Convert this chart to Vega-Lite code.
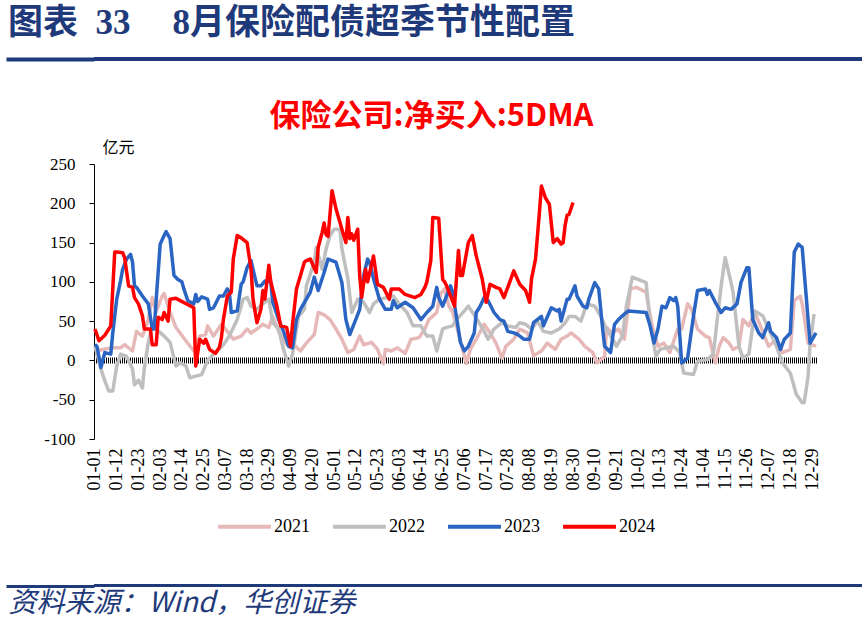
{
  "$schema": "https://vega.github.io/schema/vega-lite/v6.json",
  "background": "white",
  "padding": {"left": 4, "top": 6, "right": 0, "bottom": 0},
  "spacing": 40,
  "config": {"view": {"stroke": null}},
  "vconcat": [
    {
      "width": 768,
      "height": 4,
      "view": {"fill": "#1F3A7A", "stroke": null},
      "data": {"values": [{"h": 0.5}]},
      "mark": {"type": "point", "opacity": 0, "size": 1},
      "encoding": {
        "y": {"field": "h", "type": "quantitative", "scale": {"domain": [0, 1]},
              "axis": {"values": [0.5], "tickSize": 88, "tickWidth": 4, "tickColor": "#1F3A7A", "labels": false, "domain": false, "grid": false, "title": null, "minExtent": 0, "maxExtent": 88}}
      },
      "title": {
        "text": "图表\u200233\u2003\u20098月保险配债超季节性配置",
        "orient": "top",
        "anchor": "start",
        "frame": "bounds",
        "dx": 4,
        "font": "Liberation Serif, Noto Sans CJK SC",
        "fontSize": 35,
        "fontWeight": "bold",
        "color": "#1F3A7A",
        "offset": 16
      }
    },
    {
      "spacing": 94,
      "vconcat": [
        {
          "width": 723,
          "height": 275,
          "title": {
            "text": "保险公司:净买入:5DMA",
            "color": "#FF0000",
            "font": "Noto Sans CJK SC",
            "fontWeight": "bold",
            "fontSize": 31,
            "anchor": "middle",
            "frame": "group",
            "dx": -24,
            "offset": 6
          },
          "data": {
            "values": [
              {"yr":"2021","d":0,"v":12},{"yr":"2021","d":4,"v":14},{"yr":"2021","d":8,"v":16},{"yr":"2021","d":13,"v":16},{"yr":"2021","d":15,"v":20},{"yr":"2021","d":19,"v":12},{"yr":"2021","d":21,"v":37},{"yr":"2021","d":24,"v":31},{"yr":"2021","d":27,"v":52},{"yr":"2021","d":29,"v":80},{"yr":"2021","d":31,"v":62},{"yr":"2021","d":34,"v":82},{"yr":"2021","d":35,"v":85},{"yr":"2021","d":38,"v":61},{"yr":"2021","d":41,"v":42},{"yr":"2021","d":46,"v":25},{"yr":"2021","d":50,"v":12},{"yr":"2021","d":53,"v":31},{"yr":"2021","d":56,"v":33},{"yr":"2021","d":57,"v":44},{"yr":"2021","d":60,"v":31},{"yr":"2021","d":64,"v":46},{"yr":"2021","d":67,"v":37},{"yr":"2021","d":70,"v":27},{"yr":"2021","d":74,"v":31},{"yr":"2021","d":77,"v":40},{"yr":"2021","d":79,"v":35},{"yr":"2021","d":82,"v":40},{"yr":"2021","d":85,"v":46},{"yr":"2021","d":88,"v":42},{"yr":"2021","d":90,"v":56},{"yr":"2021","d":93,"v":37},{"yr":"2021","d":97,"v":20},{"yr":"2021","d":100,"v":22},{"yr":"2021","d":104,"v":12},{"yr":"2021","d":107,"v":22},{"yr":"2021","d":111,"v":33},{"yr":"2021","d":113,"v":61},{"yr":"2021","d":116,"v":58},{"yr":"2021","d":119,"v":52},{"yr":"2021","d":122,"v":40},{"yr":"2021","d":125,"v":27},{"yr":"2021","d":128,"v":10},{"yr":"2021","d":131,"v":14},{"yr":"2021","d":134,"v":31},{"yr":"2021","d":136,"v":20},{"yr":"2021","d":140,"v":23},{"yr":"2021","d":143,"v":14},{"yr":"2021","d":146,"v":-4},{"yr":"2021","d":147,"v":14},{"yr":"2021","d":150,"v":12},{"yr":"2021","d":153,"v":16},{"yr":"2021","d":157,"v":9},{"yr":"2021","d":160,"v":27},{"yr":"2021","d":164,"v":29},{"yr":"2021","d":167,"v":40},{"yr":"2021","d":169,"v":52},{"yr":"2021","d":173,"v":61},{"yr":"2021","d":175,"v":85},{"yr":"2021","d":177,"v":91},{"yr":"2021","d":179,"v":70},{"yr":"2021","d":181,"v":62},{"yr":"2021","d":184,"v":35},{"yr":"2021","d":188,"v":-4},{"yr":"2021","d":190,"v":14},{"yr":"2021","d":193,"v":27},{"yr":"2021","d":197,"v":46},{"yr":"2021","d":200,"v":35},{"yr":"2021","d":203,"v":22},{"yr":"2021","d":206,"v":3},{"yr":"2021","d":208,"v":18},{"yr":"2021","d":212,"v":27},{"yr":"2021","d":215,"v":40},{"yr":"2021","d":219,"v":35},{"yr":"2021","d":222,"v":6},{"yr":"2021","d":226,"v":12},{"yr":"2021","d":229,"v":22},{"yr":"2021","d":233,"v":14},{"yr":"2021","d":236,"v":27},{"yr":"2021","d":239,"v":31},{"yr":"2021","d":241,"v":35},{"yr":"2021","d":245,"v":27},{"yr":"2021","d":248,"v":18},{"yr":"2021","d":252,"v":10},{"yr":"2021","d":254,"v":-3},{"yr":"2021","d":258,"v":5},{"yr":"2021","d":259,"v":42},{"yr":"2021","d":262,"v":35},{"yr":"2021","d":265,"v":40},{"yr":"2021","d":268,"v":27},{"yr":"2021","d":271,"v":91},{"yr":"2021","d":274,"v":93},{"yr":"2021","d":279,"v":87},{"yr":"2021","d":282,"v":44},{"yr":"2021","d":285,"v":18},{"yr":"2021","d":288,"v":22},{"yr":"2021","d":291,"v":10},{"yr":"2021","d":295,"v":40},{"yr":"2021","d":297,"v":40},{"yr":"2021","d":300,"v":72},{"yr":"2021","d":302,"v":65},{"yr":"2021","d":305,"v":40},{"yr":"2021","d":309,"v":31},{"yr":"2021","d":311,"v":29},{"yr":"2021","d":314,"v":-3},{"yr":"2021","d":316,"v":18},{"yr":"2021","d":318,"v":29},{"yr":"2021","d":321,"v":22},{"yr":"2021","d":323,"v":14},{"yr":"2021","d":326,"v":18},{"yr":"2021","d":328,"v":52},{"yr":"2021","d":331,"v":44},{"yr":"2021","d":334,"v":61},{"yr":"2021","d":338,"v":37},{"yr":"2021","d":341,"v":18},{"yr":"2021","d":345,"v":27},{"yr":"2021","d":348,"v":10},{"yr":"2021","d":352,"v":14},{"yr":"2021","d":354,"v":76},{"yr":"2021","d":357,"v":82},{"yr":"2021","d":358,"v":72},{"yr":"2021","d":361,"v":22},{"yr":"2021","d":365,"v":18},
              {"yr":"2022","d":0,"v":18},{"yr":"2022","d":3,"v":-11},{"yr":"2022","d":5,"v":-26},{"yr":"2022","d":7,"v":-39},{"yr":"2022","d":9,"v":-39},{"yr":"2022","d":11,"v":-7},{"yr":"2022","d":13,"v":8},{"yr":"2022","d":16,"v":5},{"yr":"2022","d":19,"v":-11},{"yr":"2022","d":20,"v":-31},{"yr":"2022","d":22,"v":-25},{"yr":"2022","d":24,"v":-35},{"yr":"2022","d":25,"v":-10},{"yr":"2022","d":27,"v":23},{"yr":"2022","d":29,"v":44},{"yr":"2022","d":31,"v":40},{"yr":"2022","d":35,"v":31},{"yr":"2022","d":38,"v":23},{"yr":"2022","d":41,"v":-7},{"yr":"2022","d":43,"v":-3},{"yr":"2022","d":46,"v":-7},{"yr":"2022","d":48,"v":-22},{"yr":"2022","d":51,"v":-20},{"yr":"2022","d":54,"v":-18},{"yr":"2022","d":57,"v":0},{"yr":"2022","d":60,"v":8},{"yr":"2022","d":63,"v":15},{"yr":"2022","d":65,"v":20},{"yr":"2022","d":68,"v":31},{"yr":"2022","d":72,"v":52},{"yr":"2022","d":75,"v":78},{"yr":"2022","d":77,"v":80},{"yr":"2022","d":79,"v":69},{"yr":"2022","d":82,"v":65},{"yr":"2022","d":85,"v":72},{"yr":"2022","d":88,"v":78},{"yr":"2022","d":90,"v":48},{"yr":"2022","d":93,"v":40},{"yr":"2022","d":95,"v":18},{"yr":"2022","d":98,"v":-7},{"yr":"2022","d":100,"v":8},{"yr":"2022","d":103,"v":56},{"yr":"2022","d":106,"v":65},{"yr":"2022","d":107,"v":95},{"yr":"2022","d":111,"v":125},{"yr":"2022","d":112,"v":144},{"yr":"2022","d":115,"v":116},{"yr":"2022","d":117,"v":142},{"yr":"2022","d":119,"v":159},{"yr":"2022","d":121,"v":167},{"yr":"2022","d":124,"v":167},{"yr":"2022","d":125,"v":142},{"yr":"2022","d":128,"v":104},{"yr":"2022","d":130,"v":61},{"yr":"2022","d":133,"v":78},{"yr":"2022","d":136,"v":74},{"yr":"2022","d":139,"v":61},{"yr":"2022","d":141,"v":72},{"yr":"2022","d":144,"v":78},{"yr":"2022","d":148,"v":80},{"yr":"2022","d":151,"v":82},{"yr":"2022","d":155,"v":69},{"yr":"2022","d":158,"v":61},{"yr":"2022","d":161,"v":44},{"yr":"2022","d":165,"v":44},{"yr":"2022","d":168,"v":31},{"yr":"2022","d":171,"v":31},{"yr":"2022","d":173,"v":12},{"yr":"2022","d":176,"v":40},{"yr":"2022","d":178,"v":42},{"yr":"2022","d":181,"v":44},{"yr":"2022","d":183,"v":52},{"yr":"2022","d":187,"v":63},{"yr":"2022","d":189,"v":69},{"yr":"2022","d":193,"v":54},{"yr":"2022","d":197,"v":37},{"yr":"2022","d":199,"v":27},{"yr":"2022","d":202,"v":40},{"yr":"2022","d":206,"v":48},{"yr":"2022","d":209,"v":44},{"yr":"2022","d":213,"v":42},{"yr":"2022","d":215,"v":48},{"yr":"2022","d":218,"v":46},{"yr":"2022","d":221,"v":40},{"yr":"2022","d":224,"v":50},{"yr":"2022","d":227,"v":37},{"yr":"2022","d":231,"v":35},{"yr":"2022","d":235,"v":40},{"yr":"2022","d":238,"v":48},{"yr":"2022","d":240,"v":56},{"yr":"2022","d":243,"v":56},{"yr":"2022","d":246,"v":50},{"yr":"2022","d":249,"v":72},{"yr":"2022","d":253,"v":69},{"yr":"2022","d":256,"v":56},{"yr":"2022","d":259,"v":40},{"yr":"2022","d":263,"v":23},{"yr":"2022","d":264,"v":18},{"yr":"2022","d":267,"v":31},{"yr":"2022","d":269,"v":69},{"yr":"2022","d":272,"v":106},{"yr":"2022","d":279,"v":99},{"yr":"2022","d":281,"v":48},{"yr":"2022","d":284,"v":5},{"yr":"2022","d":286,"v":14},{"yr":"2022","d":289,"v":16},{"yr":"2022","d":293,"v":18},{"yr":"2022","d":296,"v":10},{"yr":"2022","d":298,"v":-16},{"yr":"2022","d":303,"v":-18},{"yr":"2022","d":305,"v":-1},{"yr":"2022","d":310,"v":1},{"yr":"2022","d":313,"v":8},{"yr":"2022","d":315,"v":52},{"yr":"2022","d":317,"v":95},{"yr":"2022","d":319,"v":131},{"yr":"2022","d":322,"v":99},{"yr":"2022","d":323,"v":87},{"yr":"2022","d":326,"v":18},{"yr":"2022","d":328,"v":3},{"yr":"2022","d":331,"v":8},{"yr":"2022","d":334,"v":63},{"yr":"2022","d":338,"v":57},{"yr":"2022","d":341,"v":40},{"yr":"2022","d":345,"v":18},{"yr":"2022","d":348,"v":-3},{"yr":"2022","d":352,"v":-16},{"yr":"2022","d":355,"v":-43},{"yr":"2022","d":358,"v":-54},{"yr":"2022","d":359,"v":-54},{"yr":"2022","d":361,"v":-20},{"yr":"2022","d":362,"v":22},{"yr":"2022","d":364,"v":59},
              {"yr":"2023","d":0,"v":20},{"yr":"2023","d":1,"v":18},{"yr":"2023","d":3,"v":-9},{"yr":"2023","d":5,"v":10},{"yr":"2023","d":8,"v":8},{"yr":"2023","d":9,"v":35},{"yr":"2023","d":11,"v":78},{"yr":"2023","d":13,"v":102},{"yr":"2023","d":14,"v":116},{"yr":"2023","d":16,"v":129},{"yr":"2023","d":18,"v":135},{"yr":"2023","d":19,"v":125},{"yr":"2023","d":20,"v":95},{"yr":"2023","d":21,"v":93},{"yr":"2023","d":24,"v":82},{"yr":"2023","d":27,"v":72},{"yr":"2023","d":29,"v":40},{"yr":"2023","d":30,"v":40},{"yr":"2023","d":31,"v":78},{"yr":"2023","d":33,"v":148},{"yr":"2023","d":35,"v":159},{"yr":"2023","d":36,"v":164},{"yr":"2023","d":38,"v":155},{"yr":"2023","d":40,"v":108},{"yr":"2023","d":42,"v":103},{"yr":"2023","d":44,"v":100},{"yr":"2023","d":45,"v":91},{"yr":"2023","d":47,"v":76},{"yr":"2023","d":50,"v":72},{"yr":"2023","d":51,"v":84},{"yr":"2023","d":52,"v":75},{"yr":"2023","d":54,"v":81},{"yr":"2023","d":57,"v":78},{"yr":"2023","d":58,"v":65},{"yr":"2023","d":60,"v":67},{"yr":"2023","d":63,"v":82},{"yr":"2023","d":65,"v":82},{"yr":"2023","d":67,"v":91},{"yr":"2023","d":68,"v":87},{"yr":"2023","d":69,"v":61},{"yr":"2023","d":72,"v":63},{"yr":"2023","d":74,"v":97},{"yr":"2023","d":75,"v":100},{"yr":"2023","d":77,"v":118},{"yr":"2023","d":79,"v":127},{"yr":"2023","d":80,"v":116},{"yr":"2023","d":82,"v":95},{"yr":"2023","d":84,"v":95},{"yr":"2023","d":86,"v":101},{"yr":"2023","d":89,"v":100},{"yr":"2023","d":90,"v":74},{"yr":"2023","d":93,"v":52},{"yr":"2023","d":95,"v":40},{"yr":"2023","d":98,"v":18},{"yr":"2023","d":100,"v":16},{"yr":"2023","d":102,"v":52},{"yr":"2023","d":104,"v":65},{"yr":"2023","d":107,"v":78},{"yr":"2023","d":109,"v":87},{"yr":"2023","d":111,"v":106},{"yr":"2023","d":113,"v":89},{"yr":"2023","d":116,"v":112},{"yr":"2023","d":118,"v":129},{"yr":"2023","d":122,"v":125},{"yr":"2023","d":125,"v":99},{"yr":"2023","d":127,"v":52},{"yr":"2023","d":129,"v":33},{"yr":"2023","d":132,"v":52},{"yr":"2023","d":134,"v":65},{"yr":"2023","d":136,"v":108},{"yr":"2023","d":138,"v":129},{"yr":"2023","d":139,"v":125},{"yr":"2023","d":141,"v":104},{"yr":"2023","d":144,"v":78},{"yr":"2023","d":147,"v":65},{"yr":"2023","d":150,"v":65},{"yr":"2023","d":151,"v":76},{"yr":"2023","d":153,"v":67},{"yr":"2023","d":157,"v":74},{"yr":"2023","d":161,"v":67},{"yr":"2023","d":165,"v":52},{"yr":"2023","d":168,"v":61},{"yr":"2023","d":171,"v":69},{"yr":"2023","d":173,"v":93},{"yr":"2023","d":174,"v":80},{"yr":"2023","d":176,"v":69},{"yr":"2023","d":178,"v":82},{"yr":"2023","d":180,"v":95},{"yr":"2023","d":181,"v":87},{"yr":"2023","d":185,"v":23},{"yr":"2023","d":187,"v":12},{"yr":"2023","d":189,"v":18},{"yr":"2023","d":192,"v":35},{"yr":"2023","d":193,"v":61},{"yr":"2023","d":195,"v":69},{"yr":"2023","d":197,"v":80},{"yr":"2023","d":199,"v":76},{"yr":"2023","d":202,"v":61},{"yr":"2023","d":205,"v":52},{"yr":"2023","d":207,"v":50},{"yr":"2023","d":209,"v":37},{"yr":"2023","d":212,"v":35},{"yr":"2023","d":214,"v":33},{"yr":"2023","d":217,"v":27},{"yr":"2023","d":220,"v":27},{"yr":"2023","d":222,"v":48},{"yr":"2023","d":226,"v":56},{"yr":"2023","d":227,"v":44},{"yr":"2023","d":231,"v":67},{"yr":"2023","d":234,"v":63},{"yr":"2023","d":235,"v":65},{"yr":"2023","d":236,"v":50},{"yr":"2023","d":239,"v":78},{"yr":"2023","d":240,"v":78},{"yr":"2023","d":243,"v":95},{"yr":"2023","d":244,"v":82},{"yr":"2023","d":247,"v":69},{"yr":"2023","d":249,"v":67},{"yr":"2023","d":250,"v":78},{"yr":"2023","d":253,"v":99},{"yr":"2023","d":255,"v":91},{"yr":"2023","d":257,"v":40},{"yr":"2023","d":258,"v":18},{"yr":"2023","d":261,"v":10},{"yr":"2023","d":263,"v":46},{"yr":"2023","d":265,"v":52},{"yr":"2023","d":268,"v":59},{"yr":"2023","d":270,"v":63},{"yr":"2023","d":279,"v":61},{"yr":"2023","d":281,"v":44},{"yr":"2023","d":283,"v":22},{"yr":"2023","d":285,"v":40},{"yr":"2023","d":287,"v":69},{"yr":"2023","d":289,"v":67},{"yr":"2023","d":291,"v":80},{"yr":"2023","d":293,"v":76},{"yr":"2023","d":294,"v":80},{"yr":"2023","d":295,"v":69},{"yr":"2023","d":297,"v":-3},{"yr":"2023","d":300,"v":3},{"yr":"2023","d":303,"v":57},{"yr":"2023","d":305,"v":89},{"yr":"2023","d":309,"v":91},{"yr":"2023","d":310,"v":84},{"yr":"2023","d":311,"v":89},{"yr":"2023","d":314,"v":74},{"yr":"2023","d":317,"v":61},{"yr":"2023","d":319,"v":67},{"yr":"2023","d":322,"v":65},{"yr":"2023","d":325,"v":72},{"yr":"2023","d":327,"v":99},{"yr":"2023","d":330,"v":118},{"yr":"2023","d":331,"v":118},{"yr":"2023","d":333,"v":52},{"yr":"2023","d":336,"v":35},{"yr":"2023","d":338,"v":29},{"yr":"2023","d":341,"v":48},{"yr":"2023","d":342,"v":37},{"yr":"2023","d":345,"v":29},{"yr":"2023","d":347,"v":14},{"yr":"2023","d":349,"v":27},{"yr":"2023","d":352,"v":35},{"yr":"2023","d":354,"v":138},{"yr":"2023","d":356,"v":148},{"yr":"2023","d":358,"v":144},{"yr":"2023","d":361,"v":52},{"yr":"2023","d":362,"v":22},{"yr":"2023","d":365,"v":35},
              {"yr":"2024","d":0,"v":40},{"yr":"2024","d":2,"v":25},{"yr":"2024","d":5,"v":32},{"yr":"2024","d":8,"v":44},{"yr":"2024","d":10,"v":138},{"yr":"2024","d":11,"v":138},{"yr":"2024","d":14,"v":137},{"yr":"2024","d":15,"v":131},{"yr":"2024","d":17,"v":95},{"yr":"2024","d":19,"v":93},{"yr":"2024","d":20,"v":80},{"yr":"2024","d":22,"v":72},{"yr":"2024","d":24,"v":57},{"yr":"2024","d":25,"v":40},{"yr":"2024","d":28,"v":40},{"yr":"2024","d":29,"v":20},{"yr":"2024","d":31,"v":20},{"yr":"2024","d":32,"v":55},{"yr":"2024","d":34,"v":52},{"yr":"2024","d":35,"v":61},{"yr":"2024","d":37,"v":50},{"yr":"2024","d":38,"v":78},{"yr":"2024","d":41,"v":79},{"yr":"2024","d":50,"v":67},{"yr":"2024","d":51,"v":-7},{"yr":"2024","d":53,"v":27},{"yr":"2024","d":55,"v":22},{"yr":"2024","d":56,"v":27},{"yr":"2024","d":58,"v":14},{"yr":"2024","d":61,"v":9},{"yr":"2024","d":63,"v":17},{"yr":"2024","d":64,"v":29},{"yr":"2024","d":65,"v":52},{"yr":"2024","d":67,"v":82},{"yr":"2024","d":69,"v":87},{"yr":"2024","d":70,"v":129},{"yr":"2024","d":72,"v":159},{"yr":"2024","d":74,"v":156},{"yr":"2024","d":77,"v":150},{"yr":"2024","d":79,"v":116},{"yr":"2024","d":80,"v":78},{"yr":"2024","d":82,"v":48},{"yr":"2024","d":84,"v":65},{"yr":"2024","d":85,"v":89},{"yr":"2024","d":86,"v":78},{"yr":"2024","d":88,"v":121},{"yr":"2024","d":89,"v":100},{"yr":"2024","d":92,"v":70},{"yr":"2024","d":94,"v":44},{"yr":"2024","d":97,"v":42},{"yr":"2024","d":99,"v":18},{"yr":"2024","d":100,"v":46},{"yr":"2024","d":102,"v":91},{"yr":"2024","d":106,"v":125},{"yr":"2024","d":107,"v":127},{"yr":"2024","d":109,"v":129},{"yr":"2024","d":112,"v":112},{"yr":"2024","d":113,"v":144},{"yr":"2024","d":115,"v":163},{"yr":"2024","d":116,"v":175},{"yr":"2024","d":117,"v":160},{"yr":"2024","d":118,"v":158},{"yr":"2024","d":120,"v":216},{"yr":"2024","d":122,"v":193},{"yr":"2024","d":125,"v":167},{"yr":"2024","d":127,"v":150},{"yr":"2024","d":128,"v":182},{"yr":"2024","d":129,"v":155},{"yr":"2024","d":130,"v":161},{"yr":"2024","d":131,"v":153},{"yr":"2024","d":133,"v":167},{"yr":"2024","d":134,"v":108},{"yr":"2024","d":135,"v":80},{"yr":"2024","d":137,"v":116},{"yr":"2024","d":138,"v":100},{"yr":"2024","d":141,"v":133},{"yr":"2024","d":143,"v":97},{"yr":"2024","d":146,"v":93},{"yr":"2024","d":149,"v":78},{"yr":"2024","d":150,"v":91},{"yr":"2024","d":154,"v":91},{"yr":"2024","d":157,"v":84},{"yr":"2024","d":162,"v":80},{"yr":"2024","d":165,"v":84},{"yr":"2024","d":167,"v":93},{"yr":"2024","d":168,"v":100},{"yr":"2024","d":170,"v":127},{"yr":"2024","d":171,"v":182},{"yr":"2024","d":174,"v":181},{"yr":"2024","d":176,"v":103},{"yr":"2024","d":177,"v":100},{"yr":"2024","d":178,"v":95},{"yr":"2024","d":182,"v":69},{"yr":"2024","d":184,"v":140},{"yr":"2024","d":185,"v":108},{"yr":"2024","d":186,"v":108},{"yr":"2024","d":189,"v":150},{"yr":"2024","d":191,"v":159},{"yr":"2024","d":193,"v":133},{"yr":"2024","d":196,"v":104},{"yr":"2024","d":198,"v":74},{"yr":"2024","d":200,"v":97},{"yr":"2024","d":203,"v":93},{"yr":"2024","d":205,"v":91},{"yr":"2024","d":207,"v":80},{"yr":"2024","d":210,"v":100},{"yr":"2024","d":212,"v":114},{"yr":"2024","d":215,"v":97},{"yr":"2024","d":218,"v":89},{"yr":"2024","d":220,"v":74},{"yr":"2024","d":221,"v":104},{"yr":"2024","d":223,"v":129},{"yr":"2024","d":225,"v":189},{"yr":"2024","d":226,"v":222},{"yr":"2024","d":228,"v":207},{"yr":"2024","d":230,"v":199},{"yr":"2024","d":232,"v":150},{"yr":"2024","d":234,"v":155},{"yr":"2024","d":236,"v":148},{"yr":"2024","d":237,"v":150},{"yr":"2024","d":238,"v":172},{"yr":"2024","d":239,"v":185},{"yr":"2024","d":240,"v":186},{"yr":"2024","d":242,"v":201}
            ]
          },
          "layer": [
            {
              "data": {"values": [{"v": 0}]},
              "mark": {"type": "rule", "color": "black", "strokeWidth": 6, "strokeDash": [1, 1]},
              "encoding": {
                "y": {
                  "field": "v", "type": "quantitative",
                  "scale": {"domain": [-100, 250], "nice": false, "zero": false},
                  "axis": {
                    "values": [-100,-50,0,50,100,150,200,250],
                    "tickCount": 8,
                    "labelExpr": "'' + datum.value",
                    "labelOverlap": false,
                    "labelBound": false,
                    "labelFlush": false,
                    "grid": false,
                    "domainColor": "black",
                    "domainWidth": 1,
                    "tickColor": "black",
                    "tickSize": 5,
                    "labelPadding": 14,
                    "labelFont": "Liberation Serif",
                    "labelFontSize": 17,
                    "labelColor": "black",
                    "title": "亿元",
                    "titleAngle": 0,
                    "titleX": 8,
                    "titleY": -17,
                    "titleAlign": "left",
                    "titleBaseline": "middle",
                    "titleFont": "Noto Sans CJK SC",
                    "titleFontWeight": "normal",
                    "titleFontSize": 16,
                    "titleColor": "black",
                    "minExtent": 88,
                    "maxExtent": 88
                  }
                }
              }
            },
            {
              "mark": {"type": "line", "strokeWidth": 3.5, "strokeJoin": "round"},
              "encoding": {
                "x": {
                  "field": "d", "type": "quantitative",
                  "scale": {"domain": [-0.5, 365.5], "nice": false, "zero": false},
                  "axis": {
                    "values": [0,11,22,33,44,55,66,77,88,99,110,121,132,143,154,165,176,187,198,209,220,231,242,253,264,275,286,297,308,319,330,341,352,363],
                    "labelExpr": "['01-01','01-12','01-23','02-03','02-14','02-25','03-07','03-18','03-29','04-09','04-20','05-01','05-12','05-23','06-03','06-14','06-25','07-06','07-17','07-28','08-08','08-19','08-30','09-10','09-21','10-02','10-13','10-24','11-04','11-15','11-26','12-07','12-18','12-29'][round(datum.value/11)]",
                    "labelAngle": -90,
                    "labelFont": "Liberation Serif",
                    "labelFontSize": 18,
                    "labelColor": "black",
                    "labelPadding": 9,
                    "labelOverlap": false,
                    "labelBound": false,
                    "labelFlush": false,
                    "ticks": false,
                    "domain": false,
                    "grid": false,
                    "title": null
                  }
                },
                "y": {
                  "field": "v", "type": "quantitative",
                  "scale": {"domain": [-100, 250], "nice": false, "zero": false},
                  "axis": {
                    "values": [-100,-50,0,50,100,150,200,250],
                    "tickCount": 8,
                    "labelExpr": "'' + datum.value",
                    "labelOverlap": false,
                    "labelBound": false,
                    "labelFlush": false,
                    "grid": false,
                    "domainColor": "black",
                    "domainWidth": 1,
                    "tickColor": "black",
                    "tickSize": 5,
                    "labelPadding": 14,
                    "labelFont": "Liberation Serif",
                    "labelFontSize": 17,
                    "labelColor": "black",
                    "title": "亿元",
                    "titleAngle": 0,
                    "titleX": 8,
                    "titleY": -17,
                    "titleAlign": "left",
                    "titleBaseline": "middle",
                    "titleFont": "Noto Sans CJK SC",
                    "titleFontWeight": "normal",
                    "titleFontSize": 16,
                    "titleColor": "black",
                    "minExtent": 88,
                    "maxExtent": 88
                  }
                },
                "color": {
                  "field": "yr", "type": "nominal",
                  "scale": {"domain": ["2021","2022","2023","2024"], "range": ["#E6B8B7","#BFBFBF","#2A65C4","#FF0000"]},
                  "legend": {
                    "title": null,
                    "orient": "none",
                    "legendX": 122,
                    "legendY": 441,
                    "direction": "horizontal",
                    "symbolType": "stroke",
                    "symbolSize": 2800,
                    "symbolStrokeWidth": 4,
                    "labelFont": "Liberation Serif",
                    "labelFontSize": 18,
                    "labelColor": "black",
                    "labelOffset": 1,
                    "columnPadding": 15,
                    "padding": 0
                  }
                }
              }
            }
          ]
        },
        {
          "width": 768,
          "height": 3,
          "view": {"fill": "#1F3A7A", "stroke": null},
          "data": {"values": [{"h": 0.5}]},
          "mark": {"type": "point", "opacity": 0, "size": 1},
          "encoding": {
            "y": {"field": "h", "type": "quantitative", "scale": {"domain": [0, 1]},
                  "axis": {"values": [0.5], "tickSize": 88, "tickWidth": 3, "tickColor": "#1F3A7A", "labels": false, "domain": false, "grid": false, "title": null, "minExtent": 0, "maxExtent": 88}}
          },
          "title": {
            "text": "资料来源：Wind，华创证券",
            "orient": "bottom",
            "anchor": "start",
            "frame": "bounds",
            "dx": 4,
            "font": "Noto Sans CJK SC",
            "fontStyle": "italic",
            "fontWeight": "normal",
            "fontSize": 28,
            "color": "#1F3A7A",
            "offset": 2
          }
        }
      ]
    }
  ]
}
